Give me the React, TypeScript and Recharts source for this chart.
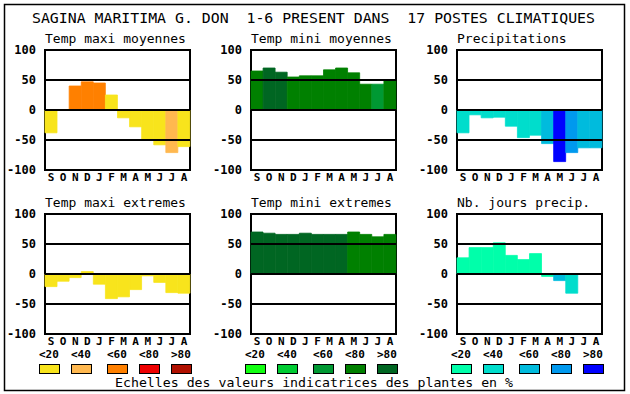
import React from "react";
import {
  BarChart,
  Bar,
  Cell,
  XAxis,
  YAxis,
  ReferenceLine,
  ReferenceArea,
} from "recharts";

const MONTHS = ["S", "O", "N", "D", "J", "F", "M", "A", "M", "J", "J", "A"];
const Y_TICKS = [-100, -50, 0, 50, 100];
const SCALE_LABELS = ["<20", "<40", "<60", "<80", ">80"];

const WARM = ["#F8E41C", "#FFB84F", "#FF8000", "#EE0000", "#B01000"];
const GREEN = ["#11FF11", "#00CC33", "#009933", "#008000", "#006622"];
const BLUE = ["#00FFAA", "#00DDCC", "#00BBDD", "#0099EE", "#0000FF"];

// values (%) and indicator classes (0..4) per month
const maxiMoyValues = [-38, 0, 40, 47, 45, 25, -13, -28, -49, -58, -71, -61];
const maxiMoyClass = [0, 0, 2, 2, 2, 0, 0, 0, 0, 0, 1, 0];

const miniMoyValues = [65, 70, 63, 55, 57, 57, 67, 70, 62, 43, 43, 49];
const miniMoyClass = [3, 4, 4, 3, 3, 3, 3, 3, 3, 3, 2, 3];

const precipValues = [-38, -8, -13, -12, -27, -46, -42, -56, -86, -71, -63, -63];
const precipClass = [1, 1, 1, 1, 1, 1, 1, 2, 4, 3, 2, 2];

const maxiExtValues = [-21, -12, -6, 4, -17, -41, -38, -26, -3, -14, -31, -32];
const maxiExtClass = [0, 0, 0, 0, 0, 0, 0, 0, 0, 0, 0, 0];

const miniExtValues = [70, 68, 66, 66, 68, 66, 66, 66, 70, 66, 62, 66];
const miniExtClass = [4, 4, 4, 4, 4, 4, 4, 4, 3, 3, 3, 3];

const joursValues = [27, 44, 44, 52, 31, 24, 34, -4, -11, -32, 0, 0];
const joursClass = [0, 0, 0, 0, 0, 0, 0, 0, 2, 1, 0, 0];

const MONO = "'DejaVu Sans Mono', 'Liberation Mono', monospace";

const panels = [
  { title: "Temp maxi moyennes", values: maxiMoyValues, classes: maxiMoyClass, palette: WARM, col: 0, row: 0 },
  { title: "Temp mini moyennes", values: miniMoyValues, classes: miniMoyClass, palette: GREEN, col: 1, row: 0 },
  { title: "Precipitations", values: precipValues, classes: precipClass, palette: BLUE, col: 2, row: 0 },
  { title: "Temp maxi extremes", values: maxiExtValues, classes: maxiExtClass, palette: WARM, col: 0, row: 1 },
  { title: "Temp mini extremes", values: miniExtValues, classes: miniExtClass, palette: GREEN, col: 1, row: 1 },
  { title: "Nb. jours precip.", values: joursValues, classes: joursClass, palette: BLUE, col: 2, row: 1 },
];

const FRAME_LEFT = [45, 251, 457];
const FRAME_TOP = [50, 214];
const LEGEND_OFFSETS = [0, 32, 68, 100, 132];

function Panel({ values, classes, palette }: any) {
  const data = MONTHS.map((m, i) => ({ month: m, idx: i, value: values[i] }));
  const tick = { fontSize: 11, fontWeight: "bold", fill: "#000", fontFamily: MONO };
  return (
    <BarChart
      width={195}
      height={150}
      data={data}
      margin={{ top: 10, right: 5, bottom: 0, left: 5 }}
      barCategoryGap={0}
      barGap={0}
    >
      <XAxis
        dataKey="idx"
        tickFormatter={(i) => MONTHS[i]}
        interval={0}
        tickLine={false}
        axisLine={false}
        tickSize={0}
        tickMargin={3}
        height={20}
        tick={tick}
      />
      <YAxis
        domain={[-100, 100]}
        ticks={Y_TICKS}
        interval={0}
        width={40}
        tickLine={false}
        axisLine={false}
        tickSize={0}
        tickMargin={9}
        tick={{ ...tick, fontSize: 12 }}
      />
      <Bar dataKey="value" isAnimationActive={false}>
        {data.map((d, i) => (
          <Cell
            key={i}
            fill={palette[classes[i]]}
            stroke={palette[classes[i]]}
            strokeWidth={0.8}
          />
        ))}
      </Bar>
      {[50, 0, -50].map((y) => (
        <ReferenceLine key={y} y={y} stroke="#000" strokeWidth={1.2} shapeRendering="crispEdges" />
      ))}
      <ReferenceArea
        y1={-100}
        y2={100}
        fill="none"
        stroke="#000"
        strokeWidth={1.2}
        shapeRendering="crispEdges"
      />
    </BarChart>
  );
}

export default function App() {
  return (
    <div style={{ position: "relative", width: 630, height: 394, background: "#fff" }}>
      <style>{`body{margin:0}`}</style>
      <svg
        width={630}
        height={394}
        style={{ position: "absolute", left: 0, top: 0 }}
        fontFamily={MONO}
      >
        <rect x={4.5} y={4.5} width={620} height={386} fill="none" stroke="#000" strokeWidth={1.5} />
        <text
          x={32}
          y={23}
          fontSize={14}
          textLength={563}
          lengthAdjust="spacingAndGlyphs"
          style={{ whiteSpace: "pre" }}
        >
          {"SAGINA MARITIMA G. DON  1-6 PRESENT DANS  17 POSTES CLIMATIQUES"}
        </text>
        {panels.map((p) => (
          <text
            key={p.title}
            x={FRAME_LEFT[p.col]}
            y={p.row === 0 ? 43 : 207}
            fontSize={13}
          >
            {p.title}
          </text>
        ))}
        {[WARM, GREEN, BLUE].map((pal, g) => (
          <g key={g}>
            {pal.map((c, k) => {
              const x = 39 + g * 206 + LEGEND_OFFSETS[k];
              return (
                <g key={k}>
                  <text x={x} y={358} fontSize={11} fontWeight="bold">
                    {SCALE_LABELS[k]}
                  </text>
                  <rect x={x + 0.5} y={364.5} width={20} height={9} fill={c} stroke="#000" />
                </g>
              );
            })}
          </g>
        ))}
        <text x={115} y={387} fontSize={13} textLength={398} lengthAdjust="spacingAndGlyphs">
          Echelles des valeurs indicatrices des plantes en %
        </text>
      </svg>
      {panels.map((p) => (
        <div
          key={p.title}
          style={{
            position: "absolute",
            left: FRAME_LEFT[p.col] - 45,
            top: FRAME_TOP[p.row] - 10,
          }}
        >
          <Panel values={p.values} classes={p.classes} palette={p.palette} />
        </div>
      ))}
    </div>
  );
}
